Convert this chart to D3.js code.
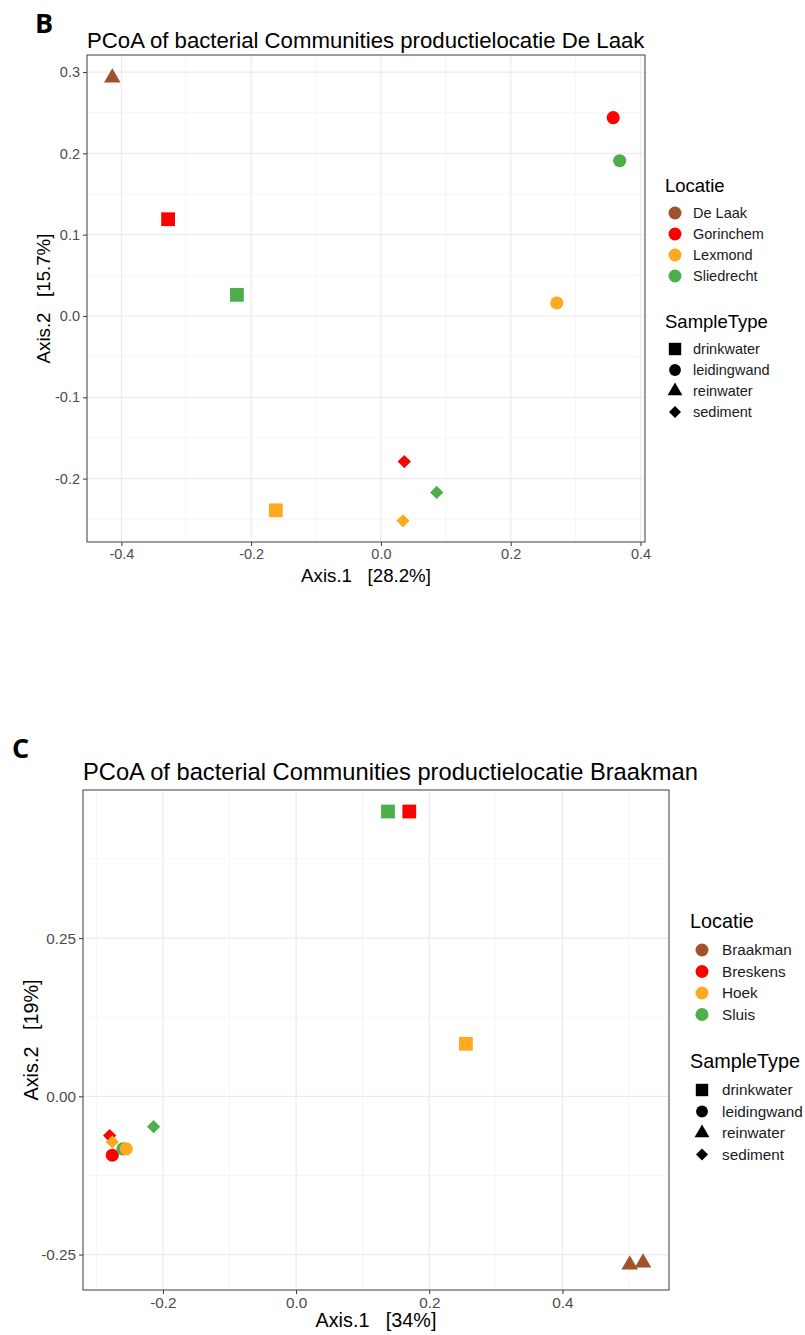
<!DOCTYPE html>
<html><head><meta charset="utf-8">
<script src="https://cdn.jsdelivr.net/npm/d3@7"></script>
<style>body{margin:0;background:#fff}svg{display:block}</style>
</head><body>
<script>
// ---------- data ----------
const sampleTypes = ["drinkwater","leidingwand","reinwater","sediment"];
const locColors = ["#A0522D","#FF0000","#FFA91F","#4DAF4A"];

// Panel B (De Laak)
const locB = ["De Laak","Gorinchem","Lexmond","Sliedrecht"];
const bLoc  = ["De Laak","Gorinchem","Sliedrecht","Gorinchem","Sliedrecht","Lexmond","Gorinchem","Sliedrecht","Lexmond","Lexmond"];
const bType = ["reinwater","leidingwand","leidingwand","drinkwater","drinkwater","leidingwand","sediment","sediment","sediment","drinkwater"];
const bX = [-0.414, 0.358, 0.368, -0.328, -0.222, 0.271, 0.036, 0.086, 0.034, -0.162];
const bY = [ 0.293, 0.244, 0.191,  0.119,  0.026, 0.016,-0.179,-0.217,-0.252, -0.239];
const bXTicks = [-0.4,-0.2,0.0,0.2,0.4];
const bYTicks = [-0.2,-0.1,0.0,0.1,0.2,0.3];

// Panel C (Braakman)
const locC = ["Braakman","Breskens","Hoek","Sluis"];
const cLoc  = ["Sluis","Breskens","Hoek","Braakman","Braakman","Breskens","Hoek","Breskens","Sluis","Hoek","Sluis"];
const cType = ["drinkwater","drinkwater","drinkwater","reinwater","reinwater","sediment","sediment","leidingwand","leidingwand","leidingwand","sediment"];
const cX = [0.138, 0.170, 0.255, 0.501, 0.521, -0.280, -0.276, -0.276, -0.260, -0.255, -0.214];
const cY = [0.450, 0.450, 0.083,-0.266,-0.263, -0.062, -0.072, -0.093, -0.083, -0.083, -0.048];
const cXTicks = [-0.2,0.0,0.2,0.4];
const cYTicks = [-0.25,0.0,0.25];

// ---------- drawing ----------
const W = 805, H = 1335;
const svg = d3.select("body").append("svg").attr("width",W).attr("height",H)
  .style("font-family","'Liberation Sans', Arial, sans-serif");

function shapePath(type, scale){
  const s = scale||1;
  if(type==="drinkwater") return d3.symbol(d3.symbolSquare, 190*s*s)();
  if(type==="leidingwand") return d3.symbol(d3.symbolCircle, 135*s*s)();
  if(type==="reinwater") return d3.symbol(d3.symbolTriangle, 118*s*s)();
  return d3.symbol(d3.symbolSquare, 88*s*s)();
}
function shapeRot(type){ return type==="sediment" ? 45 : 0; }

const fmtMinus = f => v => f(v).replace("\u2212","-");

function panel(o){
  const g = svg.append("g");
  const x = d3.scaleLinear().domain(o.xDom).range([o.left,o.right]);
  const y = d3.scaleLinear().domain(o.yDom).range([o.bottom,o.top]);
  const color = d3.scaleOrdinal().domain(o.locs).range(locColors);

  // panel label
  g.append("text").attr("x",o.labX).attr("y",o.labY).text(o.label)
    .style("font-family","'Open Sans', 'DejaVu Sans', sans-serif").style("font-weight","700")
    .style("font-size","27px").attr("fill","#000");
  // title
  g.append("text").attr("x",o.left).attr("y",o.titleY).text(o.title)
    .style("font-size",o.titleSize+"px").attr("fill","#000");

  // grid
  const gg = g.append("g");
  o.xMinor.forEach(v=>gg.append("line").attr("x1",x(v)).attr("x2",x(v)).attr("y1",o.top).attr("y2",o.bottom).attr("stroke","#F2F2F2").attr("stroke-width",0.7));
  o.yMinor.forEach(v=>gg.append("line").attr("y1",y(v)).attr("y2",y(v)).attr("x1",o.left).attr("x2",o.right).attr("stroke","#F2F2F2").attr("stroke-width",0.7));
  o.xTicks.forEach(v=>gg.append("line").attr("x1",x(v)).attr("x2",x(v)).attr("y1",o.top).attr("y2",o.bottom).attr("stroke","#EBEBEB").attr("stroke-width",1.2));
  o.yTicks.forEach(v=>gg.append("line").attr("y1",y(v)).attr("y2",y(v)).attr("x1",o.left).attr("x2",o.right).attr("stroke","#EBEBEB").attr("stroke-width",1.2));

  // axes
  const xa = g.append("g").attr("transform",`translate(0,${o.bottom})`)
    .call(d3.axisBottom(x).tickValues(o.xTicks).tickFormat(fmtMinus(d3.format(o.xFmt))).tickSize(4).tickPadding(3));
  const ya = g.append("g").attr("transform",`translate(${o.left},0)`)
    .call(d3.axisLeft(y).tickValues(o.yTicks).tickFormat(fmtMinus(d3.format(o.yFmt))).tickSize(4).tickPadding(3));
  [xa,ya].forEach(a=>{
    a.select(".domain").remove();
    a.selectAll(".tick line").attr("stroke","#333").attr("stroke-width",1);
    a.selectAll(".tick text").attr("fill","#4D4D4D").style("font-size",o.tickSize+"px").style("font-family","'Liberation Sans', Arial, sans-serif");
  });

  // border
  g.append("rect").attr("x",o.left).attr("y",o.top).attr("width",o.right-o.left).attr("height",o.bottom-o.top)
    .attr("fill","none").attr("stroke","#4D4D4D").attr("stroke-width",1.1);

  // axis titles
  g.append("text").attr("x",(o.left+o.right)/2).attr("y",o.xTitleY).attr("text-anchor","middle")
    .style("font-size",o.axTitleSize+"px").style("white-space","pre").attr("xml:space","preserve").text(o.xTitle);
  g.append("text").attr("transform",`translate(${o.yTitleX},${(o.top+o.bottom)/2}) rotate(-90)`).attr("text-anchor","middle")
    .style("font-size",o.axTitleSize+"px").style("white-space","pre").attr("xml:space","preserve").text(o.yTitle);

  // points
  o.xs.forEach((v,i)=>{
    g.append("path").attr("d",shapePath(o.types[i]))
      .attr("transform",`translate(${x(v)},${y(o.ys[i])}) rotate(${shapeRot(o.types[i])})`)
      .attr("fill",color(o.locsOf[i]));
  });

  // legend
  const lg = g.append("g");
  lg.append("text").attr("x",o.legX).attr("y",o.legY).text("Locatie").style("font-size",o.legTitleSize+"px");
  o.locs.forEach((l,i)=>{
    const yy = o.legY+o.legGap0+i*o.legStep;
    lg.append("circle").attr("cx",o.legX+o.legSymX).attr("cy",yy).attr("r",6.5).attr("fill",color(l));
    lg.append("text").attr("x",o.legX+o.legTextX).attr("y",yy+5).text(l).style("font-size",o.legTextSize+"px").attr("fill","#1a1a1a");
  });
  const ly2 = o.legY+o.legGap2;
  lg.append("text").attr("x",o.legX).attr("y",ly2).text("SampleType").style("font-size",o.legTitleSize+"px");
  sampleTypes.forEach((t,i)=>{
    const yy = ly2+o.legGap0+i*o.legStep;
    lg.append("path").attr("d",shapePath(t,0.9)).attr("transform",`translate(${o.legX+o.legSymX},${yy}) rotate(${shapeRot(t)})`).attr("fill","#000");
    lg.append("text").attr("x",o.legX+o.legTextX).attr("y",yy+5).text(t).style("font-size",o.legTextSize+"px").attr("fill","#1a1a1a");
  });
}

panel({
  label:"B", labX:35, labY:33, title:"PCoA of bacterial Communities productielocatie De Laak", titleY:48, titleSize:22.2,
  left:87, right:645, top:55, bottom:542,
  xDom:[-0.453,0.407], yDom:[-0.278,0.321],
  xTicks:bXTicks, yTicks:bYTicks, xMinor:[-0.3,-0.1,0.1,0.3], yMinor:[-0.25,-0.15,-0.05,0.05,0.15,0.25],
  xFmt:".1f", yFmt:".1f", tickSize:14.5, axTitleSize:18.7,
  xTitle:"Axis.1   [28.2%]", yTitle:"Axis.2   [15.7%]", xTitleY:582, yTitleX:50,
  xs:bX, ys:bY, types:bType, locsOf:bLoc, locs:locB,
  legX:665, legY:192, legGap0:21, legStep:21, legGap2:136, legTitleSize:18.5, legTextSize:14.5, legSymX:10, legTextX:28
});

panel({
  label:"C", labX:12, labY:758, title:"PCoA of bacterial Communities productielocatie Braakman", titleY:780, titleSize:23.7,
  left:83, right:669, top:790, bottom:1290,
  xDom:[-0.32,0.56], yDom:[-0.306,0.484],
  xTicks:cXTicks, yTicks:cYTicks, xMinor:[-0.3,-0.1,0.1,0.3,0.5], yMinor:[-0.125,0.125,0.375],
  xFmt:".1f", yFmt:".2f", tickSize:15.3, axTitleSize:19.8,
  xTitle:"Axis.1   [34%]", yTitle:"Axis.2   [19%]", xTitleY:1327, yTitleX:38,
  xs:cX, ys:cY, types:cType, locsOf:cLoc, locs:locC,
  legX:690, legY:928, legGap0:22, legStep:21.5, legGap2:140, legTitleSize:19.8, legTextSize:15.3, legSymX:12, legTextX:32
});
</script>
</body></html>
